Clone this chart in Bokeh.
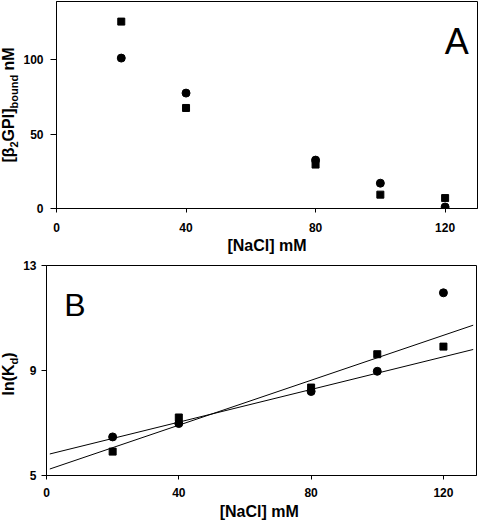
import numpy as np
from bokeh.plotting import figure
from bokeh.models import Label, FixedTicker, Range1d
from bokeh.layouts import column, row
from bokeh.embed import file_html
from bokeh.resources import INLINE

# ---- data ----
nacl = [20, 40, 80, 100, 120]                     # [NaCl] mM
bound_circle = [101, 77.5, 32.5, 17, 1]           # [b2GPI]bound nM, circles
bound_square = [125.5, 67.5, 29.5, 9.3, 7]        # [b2GPI]bound nM, squares
lnkd_circle = [6.47, 6.98, 8.2, 8.97, 11.96]      # ln(Kd), circles
lnkd_square = [5.91, 7.21, 8.35, 9.62, 9.91]      # ln(Kd), squares
n_fit = 4                                         # regression uses the first four concentrations
fit_span = [1, 129]                               # x extent of the drawn regression lines
x_ticks = [0, 40, 80, 120]
a_y_ticks = [0, 50, 100]
b_y_ticks = [5, 9, 13]

FONT = "Liberation Sans"
STRIP_W = 20
MAIN_W = 460

# panel geometry (px): height, border top, border bottom, border left, border right
A_H, A_T, A_B, A_L, A_R = 257, 1, 49, 34, 3
B_H, B_T, B_B, B_L, B_R = 265, 8, 47, 26, 4


def style(p):
    p.outline_line_color = "black"
    p.outline_line_width = 1
    p.background_fill_color = "white"
    p.border_fill_color = "white"
    p.grid.visible = False
    for ax in p.axis:
        ax.axis_line_color = "black"
        ax.axis_line_width = 1
        ax.major_tick_line_color = "black"
        ax.minor_tick_line_color = None
        ax.major_tick_in = 0
        ax.major_label_text_font = FONT
        ax.major_label_text_font_style = "bold"
        ax.major_label_text_font_size = "12px"
        ax.major_label_text_color = "black"
    for ax in p.xaxis:
        ax.axis_label_text_font = FONT
        ax.axis_label_text_font_style = "bold"
        ax.axis_label_text_font_size = "16px"
        ax.axis_label_text_color = "black"


def add_text(p, x, y, text, size, style_="bold", angle=0.0, align="left", baseline="alphabetic"):
    p.add_layout(Label(x=x, y=y, text=text, x_units="data", y_units="data",
                       text_font=FONT, text_font_size=f"{size}px", text_font_style=style_,
                       text_color="black", angle=angle, text_align=align,
                       text_baseline=baseline))


def make_strip(h, top, bottom):
    fh = h - top - bottom
    s = figure(width=STRIP_W, height=h, x_range=Range1d(0, STRIP_W), y_range=Range1d(0, fh),
               output_backend="svg", toolbar_location=None, x_axis_type=None, y_axis_type=None,
               min_border_left=0, min_border_right=0, min_border_top=top, min_border_bottom=bottom)
    s.outline_line_color = None
    s.grid.visible = False
    s.background_fill_color = "white"
    s.border_fill_color = "white"
    return s, fh


def rotated_label(s, pieces, center_y, main_cx):
    # pieces: (text, size, is_sub, advance_px); text runs bottom -> top, letters' tops face left
    total = sum(pc[3] for pc in pieces)
    cur = center_y - total / 2.0
    base = main_cx + 0.3465 * 16           # baseline of the main text
    for text, size, sub, adv in pieces:
        if text.strip():
            b = base + (4 if sub else 0)
            cx = b - 0.3465 * size
            add_text(s, cx, cur + adv / 2.0, text, size, angle=np.pi / 2,
                     align="center", baseline="middle")
        cur += adv


# ---------------- Panel A ----------------
pa = figure(width=MAIN_W, height=A_H, x_range=Range1d(0, 130), y_range=Range1d(0, 139),
            output_backend="svg", toolbar_location=None,
            min_border_left=A_L, min_border_right=A_R, min_border_top=A_T, min_border_bottom=A_B)
pa.xaxis.axis_label = "[NaCl] mM"
style(pa)
pa.xaxis.ticker = FixedTicker(ticks=x_ticks)
pa.yaxis.ticker = FixedTicker(ticks=a_y_ticks)
pa.xaxis.major_tick_out = 4
pa.xaxis.major_label_standoff = 10
pa.xaxis.axis_label_standoff = 2
pa.yaxis.major_tick_out = 6
pa.yaxis.major_label_standoff = 7

pa.scatter(nacl, bound_circle, marker="circle", size=8, color="black")
pa.scatter(nacl, bound_square, marker="square", size=7, color="black")
add_text(pa, 119.9, 112.1, "A", 36, style_="normal")

sa, a_fh = make_strip(A_H, A_T, A_B)
rotated_label(sa, [("[β", 16, False, 15.1), ("2", 11, True, 6.1), ("GPI]", 16, False, 32.9),
                   ("bound", 11, True, 33.6), (" ", 16, False, 4.4), ("nM", 16, False, 23.1)],
              a_fh / 2.0, 8)

# ---------------- Panel B ----------------
pb = figure(width=MAIN_W, height=B_H, x_range=Range1d(0, 130), y_range=Range1d(5, 13),
            output_backend="svg", toolbar_location=None,
            min_border_left=B_L, min_border_right=B_R, min_border_top=B_T, min_border_bottom=B_B)
pb.xaxis.axis_label = "[NaCl]  mM"
style(pb)
pb.xaxis.ticker = FixedTicker(ticks=x_ticks)
pb.yaxis.ticker = FixedTicker(ticks=b_y_ticks)
pb.xaxis.major_tick_out = 4
pb.xaxis.major_label_standoff = 8
pb.xaxis.axis_label_standoff = 3
pb.yaxis.major_tick_out = 5
pb.yaxis.major_label_standoff = 5

for ys in (lnkd_circle, lnkd_square):
    slope, icept = np.polyfit(nacl[:n_fit], ys[:n_fit], 1)
    pb.line(fit_span, [icept + slope * v for v in fit_span], line_color="black", line_width=1)

pb.scatter(nacl, lnkd_circle, marker="circle", size=8, color="black")
pb.scatter(nacl, lnkd_square, marker="square", size=7, color="black")
add_text(pb, 5.35, 11.51, "B", 32, style_="normal")

sb, b_fh = make_strip(B_H, B_T, B_B)
rotated_label(sb, [("ln(K", 16, False, 31.1), ("d", 11, True, 6.7), (")", 16, False, 5.3)],
              b_fh / 2.0 - 3.5, 8)

layout = column(row(sa, pa, spacing=0), row(sb, pb, spacing=0), spacing=0)
open("out.html", "w").write(file_html(layout, INLINE))
